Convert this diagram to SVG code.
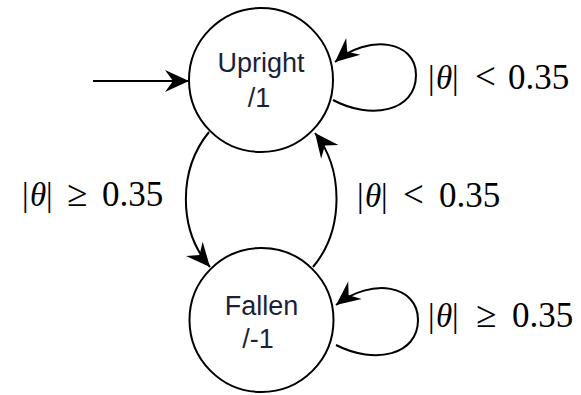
<svg xmlns="http://www.w3.org/2000/svg" width="581" height="395" viewBox="0 0 581 395">
  <style>
    .state { fill: #ffffff; stroke: #000000; stroke-width: 2; }
    .name { font-family: "Liberation Sans", Arial, sans-serif; font-size: 27px; fill: #1c1f3a; text-anchor: middle; }
    .edge { fill: none; stroke: #000000; stroke-width: 2; marker-end: url(#arrow); }
    .cond { font-family: "Liberation Serif", "DejaVu Serif", serif; font-size: 33px; fill: #000000; }
    .var { font-style: italic; }
    .rel { font-size: 37px; }
    .num { font-size: 35px; }
  </style>
  <defs>
    <marker id="arrow" viewBox="-25 -12 26 24" refX="0" refY="0" markerWidth="26" markerHeight="24" markerUnits="userSpaceOnUse" orient="auto">
      <path d="M0,0 L-24,-11 L-16,0 L-24,11 Z" fill="#000000"/>
    </marker>
  </defs>

  <!-- transitions -->
  <g id="connectors">
    <path class="edge" d="M93,81 L189,81"/>
    <path class="edge" d="M209,132 C178,170 178,230 210,267"/>
    <path class="edge" d="M313,267 C344,230 344,170 315,133"/>
    <path class="edge" d="M333,100 C370,120 416,112 416,75 C416,40 368,34 335,62"/>
    <path class="edge" d="M336,345 C375,365 418,355 418,320 C418,285 372,277 336,305"/>
  </g>

  <!-- states -->
  <g id="upright">
    <circle class="state" cx="261" cy="80" r="72"/>
    <text class="name" x="261" y="72">Upright</text>
    <text class="name" x="259" y="107">/1</text>
  </g>
  <g id="fallen">
    <circle class="state" cx="261.5" cy="320" r="72"/>
    <text class="name" x="261.5" y="315">Fallen</text>
    <text class="name" x="258" y="348">/-1</text>
  </g>

  <!-- transition conditions -->
  <g id="labels">
    <text class="cond" y="89"><tspan x="428">|</tspan><tspan class="var" x="436">θ</tspan><tspan x="452">|</tspan><tspan class="rel" x="475">&lt;</tspan><tspan class="num" x="508">0.35</tspan></text>
    <text class="cond" y="206"><tspan x="22">|</tspan><tspan class="var" x="30">θ</tspan><tspan x="46">|</tspan><tspan class="rel" x="67">≥</tspan><tspan class="num" x="102">0.35</tspan></text>
    <text class="cond" y="207"><tspan x="357">|</tspan><tspan class="var" x="365">θ</tspan><tspan x="381">|</tspan><tspan class="rel" x="403">&lt;</tspan><tspan class="num" x="439">0.35</tspan></text>
    <text class="cond" y="327"><tspan x="428">|</tspan><tspan class="var" x="436">θ</tspan><tspan x="452">|</tspan><tspan class="rel" x="476">≥</tspan><tspan class="num" x="512">0.35</tspan></text>
  </g>
</svg>
